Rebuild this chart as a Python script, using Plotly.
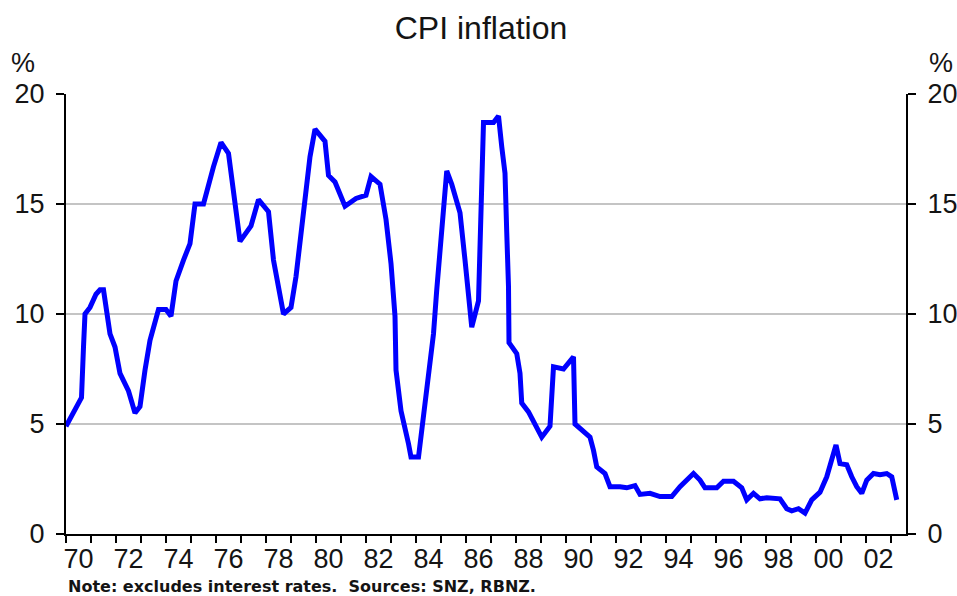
import plotly.graph_objects as go

# Dates (decimal years) and CPI inflation (%)
years = [1970.0, 1970.3, 1970.56, 1970.62, 1970.7, 1970.76, 1970.96, 1971.2, 1971.36, 1971.5,
         1971.76, 1971.96, 1972.16, 1972.5, 1972.76, 1972.96, 1973.16, 1973.36, 1973.7, 1974.0,
         1974.2, 1974.4, 1974.7, 1974.96, 1975.16, 1975.5, 1975.9, 1976.2, 1976.5, 1976.76,
         1976.96, 1977.4, 1977.7, 1978.1, 1978.3, 1978.7, 1979.0, 1979.2, 1979.4, 1979.6,
         1979.76, 1979.96, 1980.36, 1980.5, 1980.76, 1981.16, 1981.6, 1982.0, 1982.2, 1982.56,
         1982.8, 1983.0, 1983.16, 1983.2, 1983.4, 1983.7, 1983.8, 1984.1, 1984.3, 1984.5,
         1984.7, 1984.83, 1985.0, 1985.16, 1985.23, 1985.43, 1985.76, 1985.96, 1986.16, 1986.23,
         1986.5, 1986.56, 1986.63, 1986.7, 1987.1, 1987.3, 1987.43, 1987.56, 1987.63, 1987.7,
         1987.72, 1988.03, 1988.16, 1988.23, 1988.5, 1988.76, 1989.03, 1989.36, 1989.43, 1989.5,
         1989.9, 1990.16, 1990.3, 1990.36, 1990.96, 1991.1, 1991.23, 1991.56, 1991.76, 1992.16,
         1992.43, 1992.76, 1992.96, 1993.36, 1993.76, 1994.23, 1994.56, 1995.1, 1995.36, 1995.56,
         1996.03, 1996.3, 1996.7, 1997.03, 1997.23, 1997.5, 1997.76, 1998.03, 1998.56, 1998.83,
         1999.03, 1999.3, 1999.56, 1999.83, 2000.16, 2000.43, 2000.63, 2000.8, 2000.96, 2001.23,
         2001.43, 2001.63, 2001.83, 2002.03, 2002.3, 2002.56, 2002.83, 2003.03, 2003.23]

cpi = [4.9, 5.5, 6.0, 6.2, 8.5, 10.0, 10.3, 10.9, 11.1, 11.1,
       9.1, 8.5, 7.3, 6.5, 5.5, 5.8, 7.45, 8.8, 10.2, 10.2,
       9.9, 11.5, 12.45, 13.2, 15.0, 15.0, 16.7, 17.8, 17.3, 15.0,
       13.3, 14.0, 15.2, 14.65, 12.45, 10.0, 10.3, 11.7, 13.7, 15.5,
       17.15, 18.4, 17.85, 16.3, 16.0, 14.9, 15.25, 15.4, 16.25, 15.9,
       14.3, 12.3, 9.9, 7.45, 5.6, 4.1, 3.5, 3.5, 5.5, 7.0,
       9.1, 11.1, 13.2, 15.2, 16.5, 15.9, 14.6, 12.45, 10.5, 9.4,
       10.6, 13.2, 15.9, 18.7, 18.7, 19.0, 17.6, 16.4, 13.7, 11.25,
       8.7, 8.2, 7.3, 5.95, 5.55, 4.95, 4.4, 4.9, 6.1, 7.6,
       7.5, 7.9, 8.05, 5.0, 4.4, 3.8, 3.05, 2.75, 2.15, 2.15,
       2.1, 2.2, 1.8, 1.85, 1.7, 1.7, 2.15, 2.75, 2.45, 2.1,
       2.1, 2.4, 2.4, 2.1, 1.55, 1.85, 1.6, 1.65, 1.6, 1.15,
       1.05, 1.15, 0.95, 1.55, 1.9, 2.6, 3.5, 4.05, 3.2, 3.15,
       2.6, 2.15, 1.85, 2.45, 2.75, 2.7, 2.75, 2.6, 1.55]

label_years = list(range(1970, 2003, 2))
x_tick_text = [f"{y % 100:02d}" for y in label_years]
y_ticks = [0, 5, 10, 15, 20]

FONT = "Liberation Sans, Arial, sans-serif"
NOTE_FONT = "DejaVu Sans, Verdana, sans-serif"
TXT = "#141414"

fig = go.Figure()
fig.add_trace(go.Scatter(x=years, y=cpi, mode="lines",
                         line=dict(color="#0000FF", width=5),
                         yaxis="y", showlegend=False, hoverinfo="skip"))
fig.add_trace(go.Scatter(x=years, y=cpi, mode="lines",
                         line=dict(color="rgba(0,0,0,0)", width=0),
                         yaxis="y2", showlegend=False, hoverinfo="skip"))

fig.update_layout(
    width=957, height=596,
    margin=dict(l=66, r=51, t=94, b=62, autoexpand=False),
    paper_bgcolor="white", plot_bgcolor="white",
    font=dict(family=FONT, color=TXT),
    title=dict(text="CPI inflation", font=dict(size=32, color=TXT, family=FONT),
               x=481 / 957, xanchor="center", y=1 - 28 / 596, yanchor="middle",
               automargin=False),
    xaxis=dict(range=[1970, 2003.6], tickmode="array",
               tickvals=[y + 0.5 for y in label_years], ticktext=x_tick_text,
               ticks="", showgrid=False, zeroline=False, automargin=False,
               showline=True, linecolor="black", linewidth=2,
               tickfont=dict(size=27, color=TXT, family=FONT),
               minor=dict(tickmode="linear", tick0=1970, dtick=1, ticks="outside",
                          ticklen=7, tickwidth=2, tickcolor="black", showgrid=False)),
    yaxis=dict(range=[0, 20], tickvals=y_ticks, ticks="outside", ticklen=8,
               tickwidth=2, tickcolor="black", showline=True, linecolor="black",
               linewidth=2, showgrid=True, gridcolor="#c4c4c4", gridwidth=1.5,
               zeroline=False, automargin=False,
               tickfont=dict(size=27, color=TXT, family=FONT),
               ticklabelstandoff=6),
    yaxis2=dict(range=[0, 20], tickvals=y_ticks, overlaying="y", side="right",
                ticks="outside", ticklen=8, tickwidth=2, tickcolor="black",
                showline=True, linecolor="black", linewidth=2, showgrid=False,
                zeroline=False, automargin=False,
                tickfont=dict(size=27, color=TXT, family=FONT),
                ticklabelstandoff=6),
    annotations=[
        dict(text="%", xref="paper", yref="paper", x=(23 - 66) / 840, y=(534 - 63) / 440,
             xanchor="center", yanchor="middle", showarrow=False,
             font=dict(size=27, color=TXT, family=FONT)),
        dict(text="%", xref="paper", yref="paper", x=(941 - 66) / 840, y=(534 - 63) / 440,
             xanchor="center", yanchor="middle", showarrow=False,
             font=dict(size=27, color=TXT, family=FONT)),
        dict(text="<b>Note: excludes interest rates.  Sources: SNZ, RBNZ.</b>",
             xref="paper", yref="paper", x=0, y=(534 - 586) / 440,
             xanchor="left", yanchor="middle", showarrow=False,
             font=dict(size=16, color=TXT, family=NOTE_FONT)),
    ],
)

fig.write_html("out.html", config={"displayModeBar": False},
               post_script="document.body.style.margin='0';")
